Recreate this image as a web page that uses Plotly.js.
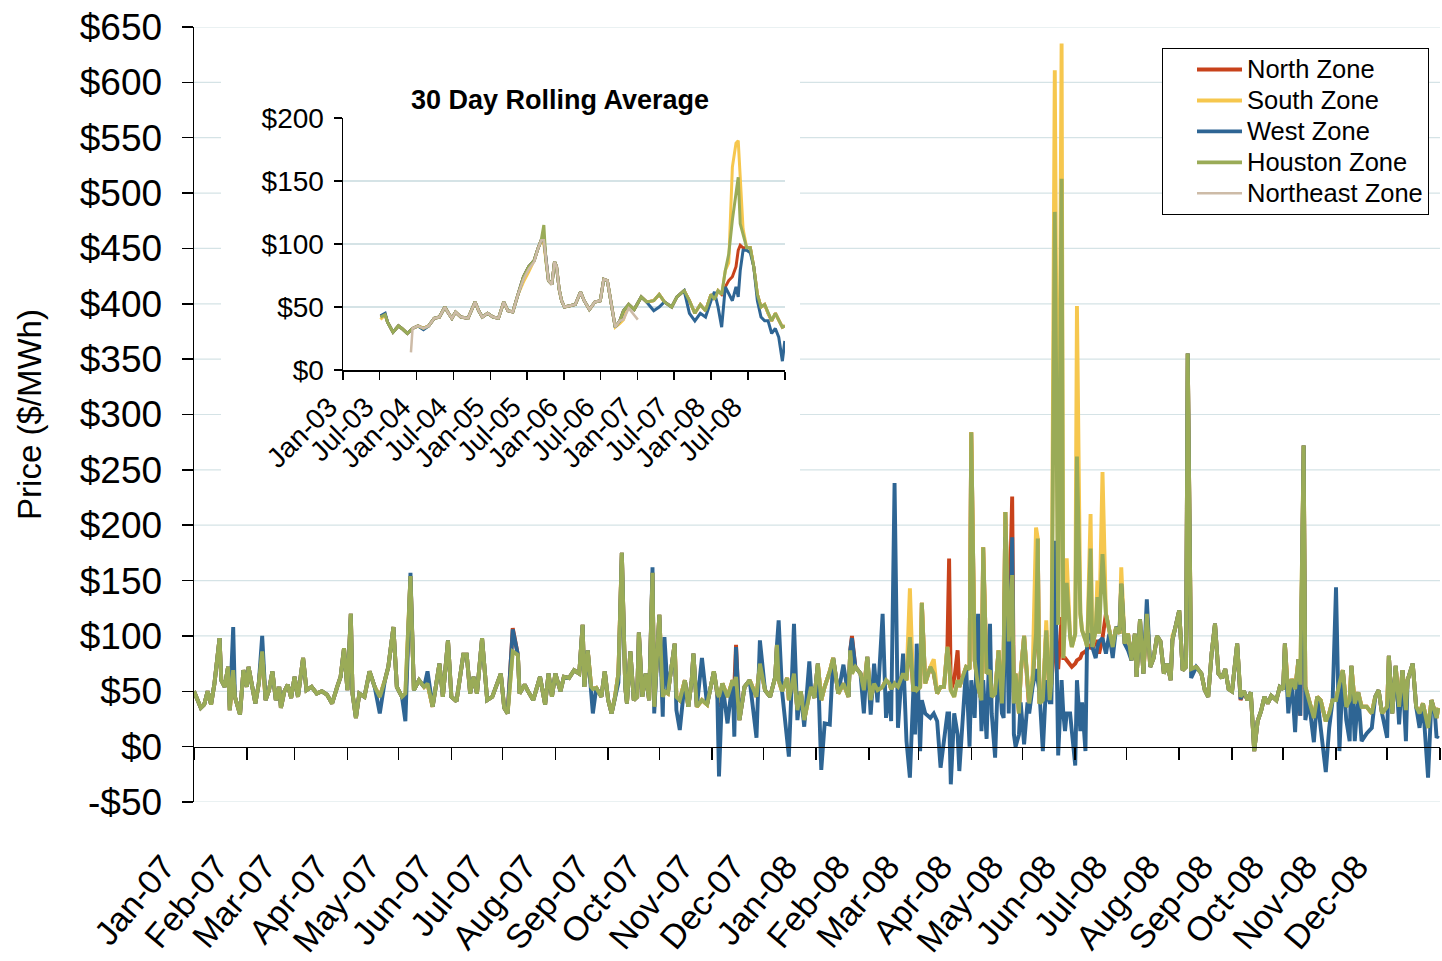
<!DOCTYPE html>
<html>
<head>
<meta charset="utf-8">
<script src="https://cdn.plot.ly/plotly-3.0.1.min.js"></script>
<style>html,body{margin:0;padding:0;background:#fff;}#chart{width:1442px;height:961px;}</style>
</head>
<body>
<div id="chart"></div>
<script>
// ---------- Main chart: daily prices, day index counted from 2007-01-01 ----------
const days = [
0,4,6,8,10,12,15,16,18,20,
21,23,24,27,29,31,32,34,36,38,
40,42,44,46,48,50,51,53,55,57,
59,61,64,66,69,72,75,78,81,84,
86,88,90,92,93,95,97,100,103,106,
109,112,114,117,119,122,124,127,129,132,
135,137,140,144,146,149,151,154,158,160,
162,164,166,169,172,175,180,182,184,187,
190,191,194,196,199,203,206,208,210,212,
215,217,220,223,226,228,229,231,233,234,
236,239,241,243,245,247,249,251,253,254,
256,258,260,261,263,265,267,269,270,273,
275,276,278,282,283,285,288,290,292,293,
295,298,301,305,307,308,310,313,316,317,
318,320,323,326,330,332,335,338,341,342,
343,345,348,349,352,354,356,358,361,362,
364,366,368,370,373,375,378,381,384,385,
386,388,391,393,395,397,399,401,404,406,
408,409,411,413,416,418,420,422,423,424,
426,427,429,432,434,436,438,440,442,443,
444,446,448,449,451,453,455,456,458,460,
462,463,465,467,468,470,472,474,475,476,
478,480,481,482,484,485,487,489,490,492,
494,495,496,498,500,501,502,503,505,507,
509,510,511,512,514,515,517,518,520,521,
523,524,526,527,529,530,531,533,535,537,
539,541,543,544,546,548,550,552,553,555,
557,559,561,563,565,567,569,571,573,574,
576,578,580,582,583,585,588,591,593,595,
597,599,601,603,605,607,609,612,614,616,
618,620,622,624,626,628,630,632,635,637,
639,640,642,644,646,648,649,651,652,654,
657,659,661,664,666,668,670,672,674,676,
678,679,681,683,685,688,691,693,695,697,
700,701,703,705,707,709,711,712,715,717,
719,721,724,726,728,729,730];

const houston = [
50,35,38,50,38,57,98,60,54,72,
33,69,45,29,69,54,72,53,39,57,
86,42,51,68,42,54,35,50,56,44,
63,45,80,51,54,48,50,47,39,54,
63,89,51,120,48,26,48,45,68,54,
45,60,72,108,54,45,48,154,51,60,
54,57,36,75,45,96,45,41,83,83,
48,63,48,98,42,45,66,35,30,86,
83,48,56,50,42,63,38,66,45,66,
50,63,62,69,66,110,54,87,54,52,
53,45,68,42,30,45,66,175,54,39,
86,42,45,103,45,66,42,157,36,119,
45,50,48,93,45,42,60,36,60,84,
36,42,38,68,48,45,57,45,60,55,
63,24,54,60,45,75,51,45,63,92,
60,50,62,42,66,33,50,24,48,54,
44,75,42,54,68,80,48,57,45,87,
66,72,66,51,81,42,57,51,54,60,
57,52,57,54,66,60,99,50,54,51,
54,130,57,72,66,48,54,54,90,75,
51,45,60,54,63,72,70,284,78,54,
42,180,66,69,45,48,87,39,78,212,
95,155,39,66,30,66,100,54,39,60,
102,188,39,42,105,75,42,58,483,110,
513,80,117,148,99,90,102,262,120,105,
96,90,179,90,105,135,102,174,120,105,
90,108,102,147,93,102,78,102,63,115,
66,120,72,80,100,95,66,75,60,96,
108,123,69,72,355,70,72,66,51,45,
84,111,66,62,70,52,50,93,45,50,
42,49,-4,23,32,45,39,46,42,54,
52,93,45,61,52,79,56,272,54,42,
26,45,42,23,30,42,42,57,69,36,
42,73,39,49,36,36,30,45,51,30,
36,82,30,73,36,69,33,60,75,36,
30,39,17,42,30,26,35];

const west = [
50,35,38,50,38,57,98,60,54,72,
33,108,45,29,69,54,72,53,39,57,
100,42,51,68,42,54,35,50,56,44,
63,45,80,51,54,48,50,47,39,54,
63,89,51,120,48,26,48,45,68,54,
30,60,72,108,54,45,23,157,51,60,
54,68,36,75,45,96,45,41,83,83,
48,63,48,98,42,45,66,35,30,106,
83,48,56,50,42,63,38,66,45,66,
50,63,62,69,66,110,54,87,54,30,
53,45,68,42,30,45,58,175,54,39,
86,42,45,103,45,66,42,162,30,119,
27,99,48,93,33,15,60,36,60,84,
36,80,38,68,48,-27,57,21,60,9,
90,24,54,60,8,96,51,45,63,92,
114,50,6,-9,111,24,50,18,77,54,
44,75,-21,21,20,80,48,74,45,87,
98,72,66,30,81,29,75,40,120,26,
50,23,238,17,84,5,-28,50,11,93,
-4,42,30,26,30,23,-19,8,30,30,
-34,30,11,-22,30,72,0,60,26,120,
14,60,7,111,30,-10,80,30,26,189,
30,189,11,0,11,40,2,40,30,54,
70,60,50,-4,60,45,40,40,186,-8,
60,30,14,30,30,14,-17,60,14,40,
-4,102,100,90,80,90,95,98,84,102,
80,108,105,147,93,87,78,102,63,115,
66,133,72,80,100,95,66,75,60,96,
108,123,69,72,355,62,72,66,51,45,
84,111,66,62,70,52,50,93,43,50,
42,49,-4,23,32,45,39,46,42,54,
52,93,30,61,13,79,28,272,24,42,
4,45,17,-23,17,42,144,-4,69,24,
5,73,5,49,5,12,17,45,51,30,
8,82,30,73,20,69,5,60,75,36,
17,39,-28,42,30,8,10];

const north = [
50,35,38,50,38,57,98,60,54,72,
33,69,45,29,69,54,72,53,39,57,
86,42,51,68,42,54,35,50,56,44,
63,45,80,51,54,48,50,47,39,54,
63,89,51,120,48,26,48,45,68,54,
45,60,72,108,54,45,38,154,51,60,
54,57,36,75,45,96,45,41,83,83,
48,63,48,98,42,45,66,35,30,107,
83,48,56,50,42,63,38,66,45,66,
50,63,62,69,66,110,54,87,54,52,
53,45,68,42,30,45,66,175,54,39,
86,42,45,103,45,66,42,157,36,119,
45,50,48,93,45,42,60,36,60,84,
36,42,38,68,48,36,57,45,60,55,
92,24,54,60,45,75,51,45,63,92,
60,50,62,42,66,33,50,24,48,54,
44,75,42,54,68,80,48,57,45,87,
100,72,66,51,81,42,57,51,54,60,
57,52,57,54,66,60,99,50,54,51,
54,130,57,72,66,48,54,54,90,170,
51,60,87,54,63,72,70,284,78,54,
42,180,66,69,45,48,87,39,78,212,
95,226,39,66,30,66,100,57,34,60,
102,188,39,42,105,75,42,58,95,70,
117,80,80,78,74,72,75,78,80,84,
86,88,92,88,95,95,84,98,120,105,
90,108,102,147,93,102,78,102,63,115,
66,120,72,80,100,95,66,75,60,96,
108,123,69,72,355,70,72,66,51,45,
84,111,66,62,70,52,50,93,42,50,
42,49,-4,23,32,45,39,46,42,54,
52,93,45,61,52,79,28,272,54,42,
26,45,42,23,30,42,42,57,69,36,
42,73,39,49,36,36,30,45,51,30,
36,82,30,73,36,69,33,60,75,36,
30,39,17,42,30,26,35];

const south = [
50,35,38,50,38,57,98,60,54,72,
33,69,45,29,69,54,72,53,39,57,
86,42,51,68,42,54,35,50,56,44,
63,45,80,51,54,48,50,47,39,54,
63,89,51,120,48,26,48,45,68,54,
45,60,72,108,54,45,48,154,51,60,
54,57,36,75,45,96,45,41,83,83,
48,63,48,98,42,45,66,35,30,86,
83,48,56,50,42,63,38,66,45,66,
50,63,62,69,66,110,54,87,54,52,
53,45,68,42,30,45,66,175,54,39,
86,42,45,103,45,66,42,157,36,119,
45,50,48,93,45,42,60,36,60,84,
36,42,38,68,48,40,57,45,60,55,
63,24,54,60,45,75,51,45,63,92,
60,50,62,42,66,33,50,24,48,54,
44,75,42,54,68,80,48,57,45,87,
66,72,66,51,81,42,57,51,54,60,
57,52,57,54,66,60,143,50,54,51,
54,130,57,72,79,48,54,54,90,75,
51,45,60,54,63,72,70,284,78,54,
42,180,66,69,45,48,87,39,78,212,
95,155,39,66,30,66,100,54,39,66,
198,188,39,42,114,75,42,58,611,110,
635,80,117,170,99,90,102,398,120,105,
96,90,210,90,105,150,102,248,120,105,
90,108,102,162,93,102,78,102,63,115,
66,120,72,80,100,95,66,75,60,100,
108,123,69,72,355,70,72,66,51,45,
84,111,66,62,70,52,50,93,45,50,
42,49,-4,23,32,45,39,46,42,54,
52,93,45,61,52,79,56,272,54,42,
26,45,42,23,30,42,42,57,69,36,
42,73,39,49,36,36,30,45,51,30,
36,82,30,73,36,69,33,60,75,36,
30,39,17,42,30,26,35];

const monthTicks = ['2007-01-01','2007-02-01','2007-03-01','2007-04-01','2007-05-01','2007-06-01',
'2007-07-01','2007-08-01','2007-09-01','2007-10-01','2007-11-01','2007-12-01',
'2008-01-01','2008-02-01','2008-03-01','2008-04-01','2008-05-01','2008-06-01',
'2008-07-01','2008-08-01','2008-09-01','2008-10-01','2008-11-01','2008-12-01','2009-01-01'];
const monthLabels = ['Jan-07','Feb-07','Mar-07','Apr-07','May-07','Jun-07','Jul-07','Aug-07','Sep-07','Oct-07','Nov-07','Dec-07',
'Jan-08','Feb-08','Mar-08','Apr-08','May-08','Jun-08','Jul-08','Aug-08','Sep-08','Oct-08','Nov-08','Dec-08',''];
const priceTicks = [-50,0,50,100,150,200,250,300,350,400,450,500,550,600,650];
const priceLabels = ['-$50','$0','$50','$100','$150','$200','$250','$300','$350','$400','$450','$500','$550','$600','$650'];

// ---------- Inset: 30 day rolling average ----------
const insetDates = [
'2003-07-06','2003-07-29','2003-08-10','2003-09-06','2003-10-03','2003-10-20','2003-11-16','2003-12-12','2004-01-08','2004-02-04',
'2004-03-01','2004-03-28','2004-04-23','2004-05-20','2004-06-07','2004-06-24','2004-07-12','2004-08-08','2004-09-12','2004-10-17',
'2004-11-04','2004-11-22','2004-12-18','2005-01-14','2005-02-10','2005-03-08','2005-03-29','2005-04-22','2005-05-18','2005-06-14',
'2005-07-10','2005-08-06','2005-08-24','2005-09-10','2005-09-23','2005-10-03','2005-10-16','2005-11-02','2005-11-15','2005-11-25',
'2005-12-08','2005-12-20','2006-01-03','2006-01-30','2006-02-26','2006-03-24','2006-04-11','2006-05-07','2006-06-03','2006-06-30',
'2006-07-17','2006-08-04','2006-08-22','2006-09-12','2006-10-05','2006-10-23','2006-11-18','2006-12-15','2007-01-19','2007-02-15',
'2007-03-22','2007-04-18','2007-05-14','2007-06-19','2007-07-15','2007-08-20','2007-09-15','2007-10-12','2007-11-08','2007-12-04',
'2007-12-31','2008-01-17','2008-02-04','2008-02-22','2008-03-11','2008-03-28','2008-04-15','2008-05-03','2008-05-14','2008-05-24',
'2008-06-07','2008-06-25','2008-07-13','2008-07-30','2008-08-17','2008-09-04','2008-09-22','2008-10-09','2008-10-27','2008-11-14',
'2008-12-01','2008-12-19','2008-12-31'];
const insetHouston = [
42,44,38,30,35,33,29,33,35,33,
35,41,42,50,45,41,46,42,41,54,
47,42,45,42,41,54,47,46,60,74,
82,87,96,103,115,87,71,68,86,82,
64,55,50,51,52,62,55,48,54,55,
72,71,55,34,39,47,52,48,58,54,
55,60,54,50,58,63,55,45,52,47,
60,56,63,60,79,92,119,140,153,116,
108,97,97,82,60,50,52,45,39,45,
39,34,35];
const insetWest = [
43,45,38,30,35,33,29,33,35,32,
35,41,42,50,45,41,46,42,41,54,
47,42,45,42,41,54,47,46,60,74,
82,87,96,103,104,87,71,68,86,82,
64,55,50,51,52,62,55,48,54,55,
72,71,55,34,39,47,52,48,58,54,
47,50,54,50,58,63,45,39,45,42,
55,62,50,34,66,60,55,66,58,79,
95,95,93,82,55,42,39,39,29,33,
26,7,23];
const insetNorth = [
42,44,38,30,35,33,29,33,35,33,
35,41,42,50,45,41,46,42,41,54,
47,42,45,42,41,54,47,46,60,74,
82,87,96,103,103,87,71,68,86,82,
64,55,50,51,52,62,55,48,54,55,
72,71,55,34,39,47,52,48,58,54,
55,60,54,50,58,63,55,45,52,47,
60,56,63,60,66,71,74,82,95,99,
97,97,97,82,60,50,52,45,39,45,
39,34,35];
const insetSouth = [
40,44,38,30,35,33,29,33,35,33,
35,41,42,50,45,41,46,42,41,54,
47,42,45,42,41,54,47,46,60,70,
78,87,96,103,100,87,71,68,86,82,
64,55,50,51,52,62,55,48,54,55,
72,71,55,34,37,40,52,48,58,54,
55,60,54,50,58,63,55,45,52,47,
60,56,63,60,79,85,161,180,182,153,
112,97,97,82,60,50,52,45,39,45,
39,34,35];
const neDates = ['2003-12-04','2003-12-12','2004-01-08','2004-02-04',
'2004-03-01','2004-03-28','2004-04-23','2004-05-20','2004-06-07','2004-06-24','2004-07-12','2004-08-08','2004-09-12','2004-10-17',
'2004-11-04','2004-11-22','2004-12-18','2005-01-14','2005-02-10','2005-03-08','2005-03-29','2005-04-22','2005-05-18','2005-06-14',
'2005-07-10','2005-08-06','2005-08-24','2005-09-10','2005-09-23','2005-10-03','2005-10-16','2005-11-02','2005-11-15','2005-11-25',
'2005-12-08','2005-12-20','2006-01-03','2006-01-30','2006-02-26','2006-03-24','2006-04-11','2006-05-07','2006-06-03','2006-06-30',
'2006-07-17','2006-08-04','2006-08-22','2006-09-12','2006-10-05','2006-10-23','2006-11-18','2006-12-15','2007-01-02'];
const neValues = [14,33,35,33,
35,41,42,50,45,41,46,42,41,54,
47,42,45,42,41,54,47,46,60,72,
80,86,96,103,103,87,71,68,86,82,
64,55,50,51,52,62,55,48,54,55,
72,71,55,34,39,40,49,44,40];
const insetTicks = ['2003-01-01','2003-07-01','2004-01-01','2004-07-01','2005-01-01','2005-07-01','2006-01-01',
'2006-07-01','2007-01-01','2007-07-01','2008-01-01','2008-07-01','2009-01-01'];
const insetTickLabels = ['Jan-03','Jul-03','Jan-04','Jul-04','Jan-05','Jul-05','Jan-06','Jul-06','Jan-07','Jul-07','Jan-08','Jul-08',''];
const insetPriceTicks = [0,50,100,150,200];
const insetPriceLabels = ['$0','$50','$100','$150','$200'];

// ---------- styling ----------
const COLORS = {north:'#C8421B', south:'#F6C74E', west:'#2E6594', houston:'#9AAB57', ne:'#CDBBA7'};
const FONT = 'Liberation Sans, Arial, sans-serif';
const GRID = '#D5E3E6';
const P = {l:194, r:1440, t:27, b:802};           // main plot area in px
const fx = px => (px - P.l) / (P.r - P.l);
const fy = py => (P.b - py) / (P.b - P.t);
const yRange = [-50, 650];

const dayToDate = d => new Date(Date.UTC(2007,0,1) + d*86400000).toISOString().slice(0,10);
const mainDates = days.map(dayToDate);
const legendName = s => '<span style="font-size:25.5px">' + s + '</span>';

function mainTrace(name, y, color) {
  return {x: mainDates, y: y, name: legendName(name), type:'scatter', mode:'lines',
          line:{color: color, width:3.9}, xaxis:'x', yaxis:'y', hoverinfo:'skip'};
}
function insetTrace(name, x, y, color, show, w) {
  return {x: x, y: y, name: legendName(name), type:'scatter', mode:'lines', showlegend: show,
          line:{color: color, width: w}, xaxis:'x3', yaxis:'y3', hoverinfo:'skip'};
}

const data = [
  mainTrace('North Zone', north, COLORS.north),
  mainTrace('South Zone', south, COLORS.south),
  mainTrace('West Zone', west, COLORS.west),
  mainTrace('Houston Zone', houston, COLORS.houston),
  insetTrace('North Zone', insetDates, insetNorth, COLORS.north, false, 3),
  insetTrace('South Zone', insetDates, insetSouth, COLORS.south, false, 3),
  insetTrace('West Zone', insetDates, insetWest, COLORS.west, false, 3),
  insetTrace('Houston Zone', insetDates, insetHouston, COLORS.houston, false, 3),
  insetTrace('Northeast Zone', neDates, neValues, COLORS.ne, true, 2.5)
];

// main horizontal gridlines (drawn as lines at the price tick values) + white panel behind the inset
const gridShapes = priceTicks.filter(v => v !== 0).map(v => ({
  type:'line', xref:'paper', yref:'y', x0:0, x1:1, y0:v, y1:v,
  line:{color:GRID, width:1.2}, layer:'below'}));
const insetPanel = {type:'rect', xref:'paper', yref:'paper', x0:fx(221), x1:fx(800), y0:fy(476), y1:fy(40),
  fillcolor:'#fff', line:{width:0}, layer:'below'};

const layout = {
  width:1442, height:961,
  margin:{l:P.l, r:1442-P.r, t:P.t, b:961-P.b, pad:0},
  paper_bgcolor:'#fff', plot_bgcolor:'#fff',
  font:{family:FONT, color:'#000'},
  showlegend:true,
  legend:{x:fx(1162), y:fy(48), xanchor:'left', yanchor:'top', bgcolor:'#fff',
          bordercolor:'#000', borderwidth:1, font:{size:21.5, family:FONT, color:'#000'},
          itemwidth:45, indentation:29, tracegroupgap:0},
  xaxis:{type:'date', domain:[0,1], range:['2007-01-01','2009-01-01'],
         anchor:'free', position:(0 - yRange[0])/(yRange[1]-yRange[0]),
         showline:true, linecolor:'#000', linewidth:1.5, showgrid:false, zeroline:false,
         ticks:'outside', ticklen:12, tickwidth:1.5, tickcolor:'#000',
         tickmode:'array', tickvals:monthTicks, ticktext:monthLabels, tickangle:-50,
         tickfont:{size:34, family:FONT, color:'#000'},
         ticklabelstandoff:73, ticklabelshift:-30},
  yaxis:{domain:[0,1], anchor:'x', range:yRange, tickmode:'array', tickvals:priceTicks, ticktext:priceLabels,
         showline:true, linecolor:'#000', linewidth:1.5, ticks:'outside', ticklen:11, tickwidth:1.5, tickcolor:'#000',
         tickfont:{size:37, family:FONT, color:'#000'}, ticklabelstandoff:12,
         showgrid:false, zeroline:false,
         title:{text:'Price ($/MWh)', font:{size:33, family:FONT, color:'#000'}, standoff:28}},
  xaxis3:{type:'date', domain:[fx(343), fx(785)], anchor:'y3', range:['2003-01-01','2009-01-01'],
          tickmode:'array', tickvals:insetTicks, ticktext:insetTickLabels, tickangle:-45,
          tickfont:{size:28, family:FONT, color:'#000'}, ticklabelshift:-14,
          showline:true, linecolor:'#000', linewidth:1.5, ticks:'outside', ticklen:8, tickwidth:1.5, tickcolor:'#000',
          showgrid:false, zeroline:false},
  yaxis3:{domain:[fy(370), fy(118)], anchor:'x3', range:[0,200], tickmode:'array',
          tickvals:insetPriceTicks, ticktext:insetPriceLabels,
          tickfont:{size:28, family:FONT, color:'#000'}, ticklabelstandoff:4,
          showline:true, linecolor:'#000', linewidth:1.5, ticks:'outside', ticklen:8, tickwidth:1.5, tickcolor:'#000',
          showgrid:true, gridcolor:GRID, gridwidth:1.2, zeroline:false},
  shapes: gridShapes.concat([insetPanel]),
  annotations:[{text:'<b>30 Day Rolling Average</b>', xref:'paper', yref:'paper', x:fx(560), y:fy(100),
                xanchor:'center', yanchor:'middle', showarrow:false,
                font:{size:27, family:FONT, color:'#000'}}]
};

Plotly.newPlot('chart', data, layout, {displayModeBar:false, staticPlot:true});
</script>
</body>
</html>
